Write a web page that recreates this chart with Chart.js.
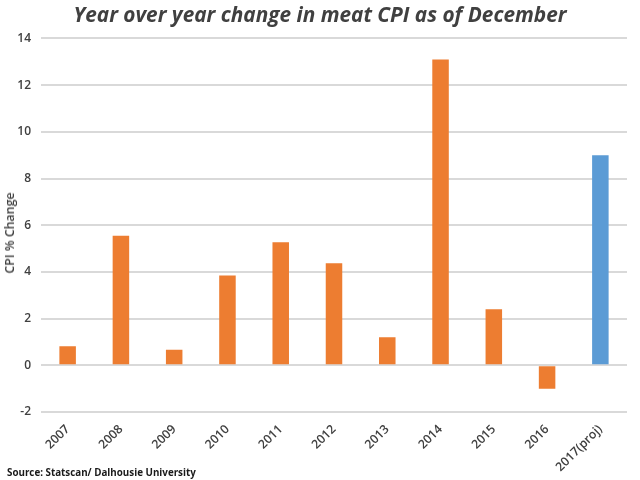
<!DOCTYPE html>
<html><head><meta charset="utf-8">
<style>html,body{margin:0;padding:0;background:#fff}#w{position:relative;width:640px;height:480px}
canvas{display:block}
#s{position:absolute;left:7px;top:466px;font:bold 9.8px/14px 'Open Sans';color:#1a1a1a;white-space:nowrap}
#yl{position:absolute;left:9.5px;top:232.5px;transform:translate(-50%,-50%) rotate(-90deg);font:600 12.4px/16px 'Open Sans';color:#404040;white-space:nowrap}</style>
<script src="https://cdn.jsdelivr.net/npm/chart.js@4/dist/chart.umd.min.js"></script></head>
<body><div id="w"><canvas id="c" width="640" height="480"></canvas><div id="yl"></div><div id="s"></div></div>
<script>
const categories=["2007","2008","2009","2010","2011","2012","2013","2014","2015","2016","2017(proj)"];
const changeValues=[0.82,5.55,0.67,3.85,5.27,4.37,1.2,13.1,2.4,-1.0,9.0];
const barColors=["#ed7d31","#ed7d31","#ed7d31","#ed7d31","#ed7d31","#ed7d31","#ed7d31","#ed7d31","#ed7d31","#ed7d31","#5b9bd5"];
const yTicks=[-2,0,2,4,6,8,10,12,14];
const titleText="Year over year change in meat CPI as of December";
const yLabel="CPI % Change";
const sourceText="Source: Statscan/ Dalhousie University";
const F="'Open Sans'";
document.getElementById('s').textContent=sourceText;
document.getElementById('yl').textContent=yLabel;
new Chart(document.getElementById('c'),{
 type:'bar',
 data:{labels:categories,datasets:[{data:changeValues,backgroundColor:barColors,borderWidth:0,barPercentage:0.31,categoryPercentage:1}]},
 options:{responsive:false,animation:false,devicePixelRatio:1,
  layout:{padding:{left:0,right:0,top:0,bottom:0}},
  plugins:{legend:{display:false},tooltip:{enabled:false},
   title:{display:true,text:titleText,color:'#404040',font:{family:F,size:20.8,weight:'bold',style:'italic'},padding:{top:4,bottom:9.5}}},
  scales:{
   x:{grid:{display:false},border:{display:false},
      ticks:{color:'#404040',font:{family:F,size:12.3,weight:'600'},maxRotation:45,minRotation:45,padding:2},
      afterFit(s){s.height=68}},
   y:{min:-2,max:14,afterBuildTicks(a){a.ticks=yTicks.map(v=>({value:v}))},
      grid:{color:'#d9d9d9',lineWidth:2,drawTicks:false},border:{display:false},
      ticks:{color:'#404040',font:{family:F,size:12,weight:'600'},padding:10},
      afterFit(s){s.width=41}},
   y2:{position:'right',min:-2,max:14,grid:{display:false},border:{display:false},ticks:{display:false},afterFit(s){s.width=13}}
  }}
});
</script></body></html>
